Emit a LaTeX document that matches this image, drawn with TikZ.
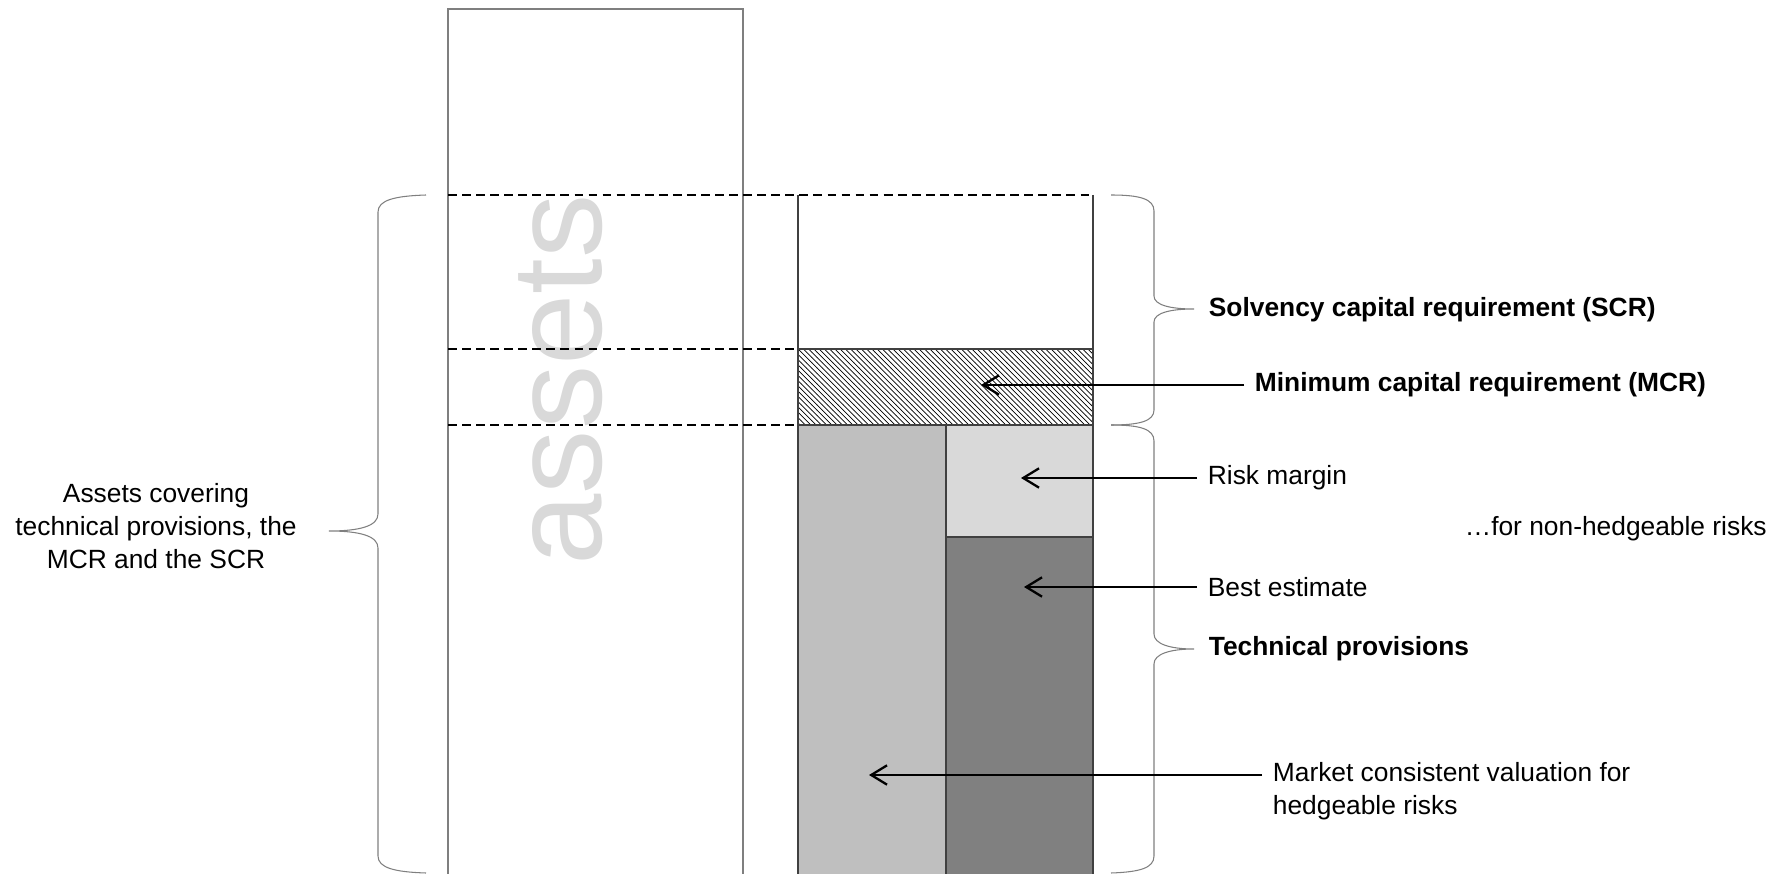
\documentclass[tikz,border=0pt]{standalone}
\usepackage{fontspec}
\setmainfont{Liberation Sans}
\usepackage{tikz}
\usetikzlibrary{arrows.meta,patterns,positioning}
\usepackage{xcolor}
\definecolor{tpgray}{HTML}{BFBFBF}
\definecolor{rmgray}{HTML}{D9D9D9}
\definecolor{begray}{HTML}{808080}
\definecolor{edgegray}{HTML}{7F7F7F}

\begin{document}
\begin{tikzpicture}[x=0.02cm, y=-0.02cm,
  lbl/.style = {anchor=west, inner xsep=6pt, inner ysep=0pt, font=\fontsize{15}{19}\selectfont},
  boldlbl/.style = {lbl, font=\fontsize{15}{19}\selectfont\bfseries},
  arr/.style = {-{Straight Barb[length=9pt,width=11pt]}, line width=1.3pt},
  level/.style = {dash pattern=on 5pt off 3pt, line width=0.7pt},
  curly/.style = {draw=edgegray, line width=0.6pt},
  box/.style = {draw=black!75, line width=0.6pt}]
\useasboundingbox (0,0) rectangle (1792,874);
\clip (0,0) rectangle (1792,874);
% assets column
\draw[draw=edgegray, line width=0.8pt] (448,890) -- (448,9) -- (743,9) -- (743,890);
\node[rotate=90, text=rmgray, inner sep=0pt, font=\fontsize{73}{73}\selectfont] (assets) at (561,380) {assets};
% liabilities column
\fill[tpgray] (798,425) rectangle (946,890);
\fill[rmgray] (946,425) rectangle (1093,537);
\fill[begray] (946,537) rectangle (1093,890);
\fill[pattern=north west lines] (798,349) rectangle (1093,425);
\draw[box] (798,195) -- (798,890);
\draw[box] (1093,195) -- (1093,890);
\draw[box] (798,349) -- (1093,349);
\draw[box] (798,425) -- (1093,425);
\draw[box] (946,425) -- (946,890);
\draw[box] (946,537) -- (1093,537);
% levels
\draw[level] (448,195) -- (1093,195);
\draw[level] (448,349) -- (798,349);
\draw[level] (448,425) -- (798,425);
% braces
\draw[curly] (426,195) .. controls (395,196) and (378,200) .. (378,212) -- (378,514)
  .. controls (378,526) and (360,531) .. (329,531)
  .. controls (360,531) and (378,536) .. (378,548) -- (378,856)
  .. controls (378,868) and (395,872) .. (426,873);
\draw[curly] (1111,195) .. controls (1140,195) and (1154,199) .. (1154,211) -- (1154,296)
  .. controls (1154,305) and (1170,309) .. (1194,309)
  .. controls (1170,309) and (1154,313) .. (1154,322) -- (1154,410)
  .. controls (1154,421) and (1140,425) .. (1111,425);
\draw[curly] (1111,425) .. controls (1140,425) and (1154,429) .. (1154,441) -- (1154,634)
  .. controls (1154,644) and (1170,649) .. (1194,649)
  .. controls (1170,649) and (1154,654) .. (1154,664) -- (1154,856)
  .. controls (1154,868) and (1140,872) .. (1111,873);
% labels
\node[boldlbl] (scr) at (1198,310) {Solvency capital requirement (SCR)};
\node[boldlbl] (mcr) at (1244,385) {Minimum capital requirement (MCR)};
\node[lbl] (rm) at (1197,478) {Risk margin};
\node[lbl] (nh) at (1454,529) {…for non-hedgeable risks};
\node[lbl] (be) at (1197,587) {Best estimate};
\node[boldlbl] (tp) at (1198,649) {Technical provisions};
\node[lbl, align=left] (mkt) at (1262,791) {Market consistent valuation for\\hedgeable risks};
\node[lbl, anchor=center, align=center] (cover) at (156,526) {Assets covering\\technical provisions, the\\MCR and the SCR};
% arrows
\coordinate (mcrtip) at (981,382);
\coordinate (rmtip) at (1021,478);
\coordinate (betip) at (1024,586);
\coordinate (mkttip) at (869,775);
\draw[arr] (mcr.west) -- (mcr.west -| mcrtip);
\draw[arr] (rm.west) -- (rm.west -| rmtip);
\draw[arr] (be.west) -- (be.west -| betip);
\draw[arr] (mkt.west |- mkttip) -- (mkttip);
\end{tikzpicture}
\end{document}
